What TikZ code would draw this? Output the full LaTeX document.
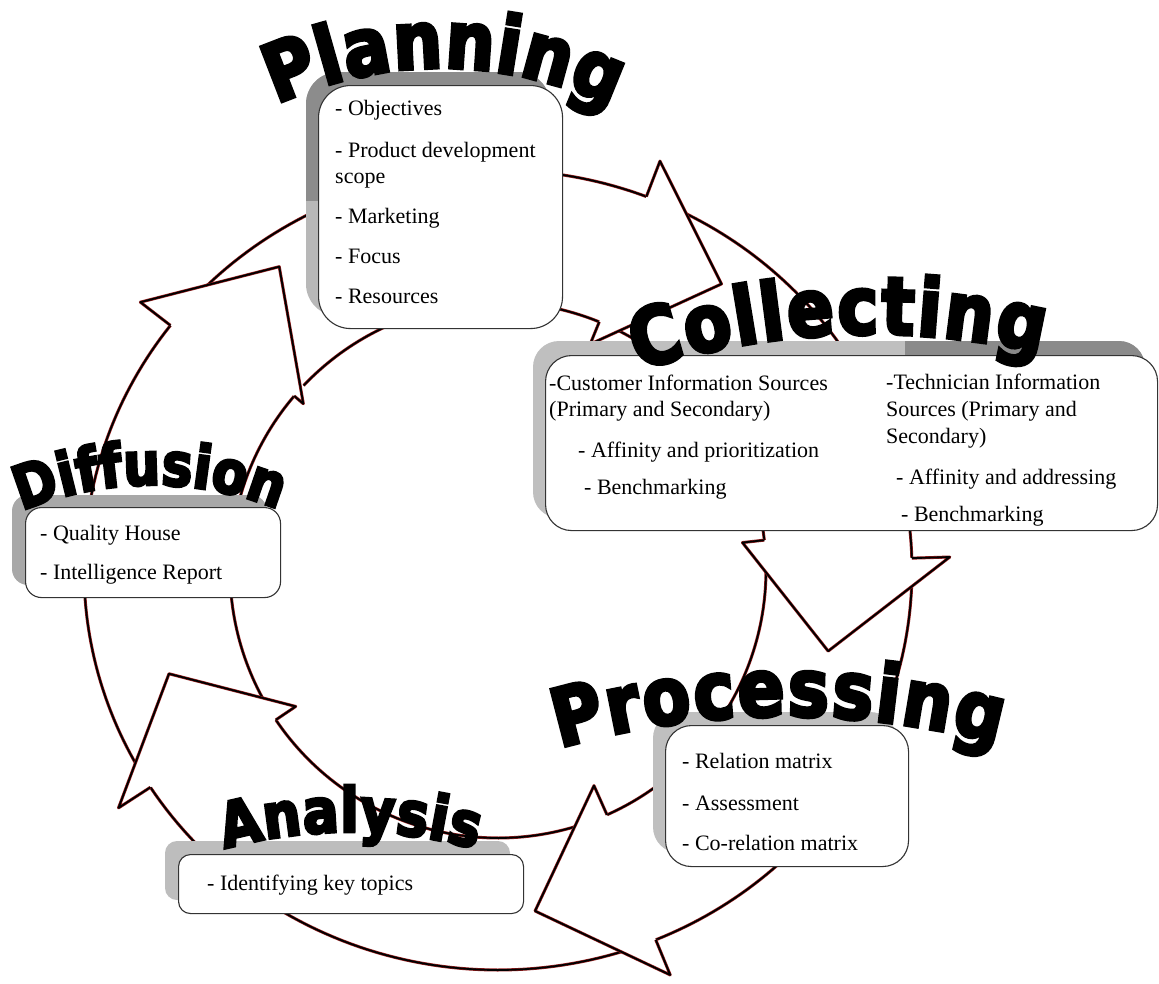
\documentclass[tikz,border=0pt]{standalone}
\usepackage{fontspec}
\usetikzlibrary{decorations.text}
\newfontfamily\itemfam{Liberation Serif}
\newfontfamily\wafam{DejaVu Sans}[BoldFeatures={FakeBold=4.5,FakeStretch=0.86}]

% ring geometry (outer ellipse, inner circle, outer wing depth)
\def\ringcx{498}\def\ringcy{570}
\def\ringrox{414}\def\ringroy{400}
\def\ringri{268}
\def\wingout{38}

% one curved band of the cycle: outer arc #1..#2, inner arc #3..#4
\newcommand{\ringband}[4]{%
  \fill[white] plot[domain=#1:#2, samples=60] ({\ringcx+\ringrox*cos(\x)},{\ringcy+\ringroy*sin(\x)})
    -- plot[domain=#4:#3, samples=60] ({\ringcx+\ringri*cos(\x)},{\ringcy+\ringri*sin(\x)}) -- cycle;
  \draw[ringline] plot[domain=#1:#2, samples=60] ({\ringcx+\ringrox*cos(\x)},{\ringcy+\ringroy*sin(\x)});
  \draw[ringline] plot[domain=#3:#4, samples=60] ({\ringcx+\ringri*cos(\x)},{\ringcy+\ringri*sin(\x)});
}
% arrow head: outer base angle, inner base angle, tip angle, tip radius, inner wing depth, name
\newcommand{\ringhead}[6]{%
  \path ({\ringcx+\ringrox*cos(#1)},{\ringcy+\ringroy*sin(#1)}) coordinate (#6on)
        ({\ringcx+(\ringrox+\wingout)*cos(#1)},{\ringcy+(\ringroy+\wingout)*sin(#1)}) coordinate (#6ow)
        ({\ringcx+#4*cos(#3)},{\ringcy+#4*sin(#3)}) coordinate (#6tip)
        ({\ringcx+(\ringri-#5)*cos(#2)},{\ringcy+(\ringri-#5)*sin(#2)}) coordinate (#6iw)
        ({\ringcx+\ringri*cos(#2)},{\ringcy+\ringri*sin(#2)}) coordinate (#6in);
  \fill[white] (#6on) -- (#6ow) -- (#6tip) -- (#6iw) -- (#6in) -- cycle;
  \draw[ringline] (#6on) -- (#6ow) -- (#6tip) -- (#6iw) -- (#6in);
}

\begin{document}
\begin{tikzpicture}[x=1pt,y=-1pt,
  ringline/.style={draw=black, line width=1.8pt, line join=round,
    preaction={draw={rgb,255:red,150;green,30;blue,30}, line width=3pt, line join=round}},
  card/.style={draw=black!80, line width=1.1pt, fill=white, rounded corners=#1pt,
    inner sep=0pt, anchor=north west},
  item/.style={font=\itemfam\fontsize{22}{26}\selectfont, inner sep=0pt, anchor=base west},
  citem/.style={font=\itemfam\fontsize{22}{26}\selectfont, inner sep=0pt, anchor=base west},
]
\useasboundingbox (0,0) rectangle (1159,983);
\fill[white] (0,0) rectangle (1159,983);

% ---- cycle of five curved arrows ----
\ringband{220.7}{291}{223.5}{292.2}
\ringband{294}{358.3}{295.2}{353.6}
\ringband{361.3}{427.6}{356.6}{426}
\ringband{70.6}{147.1}{69}{146}
\ringband{150.1}{217.7}{149}{220.5}
\ringhead{291}{292.2}{308}{363}{24}{h1}
\ringhead{358.3}{353.6}{13.8}{340}{22}{h2}
\ringhead{67.6}{66}{83.8}{343}{32}{h3}
\ringhead{147.1}{146}{162.5}{345}{24}{h4}
\ringhead{217.7}{220.5}{234.2}{374}{12}{h5}

% ---- Planning box ----
\begin{scope}
  \fill[black!28, rounded corners=32pt] (306,72) rectangle (550,316);
  \clip (0,0) rectangle (1159,200);
  \fill[black!45, rounded corners=32pt] (306,72) rectangle (550,316);
\end{scope}
\node[card=32, minimum width=244pt, minimum height=243pt] (planbox) at (318,85) {};
\node[item] (pl1) at (335,115) {- Objectives};
\node[item] (pl2) at (335,157) {- Product development};
\node[item] (pl3) at (335,183) {scope};
\node[item] (pl4) at (335,223) {- Marketing};
\node[item] (pl5) at (335,263) {- Focus};
\node[item] (pl6) at (335,303) {- Resources};

% ---- Collecting box ----
\begin{scope}
  \fill[black!25, rounded corners=26pt] (533,341) rectangle (1145,518);
  \clip (905,0) rectangle (1159,983);
  \fill[black!46, rounded corners=26pt] (533,341) rectangle (1145,518);
\end{scope}
\node[card=26, minimum width=612pt, minimum height=175pt] (colbox) at (545,355) {};
\node[citem] (co1) at (549,390) {-Customer Information Sources};
\node[citem] (co2) at (549,416) {(Primary and Secondary)};
\node[citem] (co3) at (578,457) {- Affinity and prioritization};
\node[citem] (co4) at (584,494) {- Benchmarking};
\node[citem] (co5) at (886,389) {-Technician Information};
\node[citem] (co6) at (886,416) {Sources (Primary and};
\node[citem] (co7) at (886,443) {Secondary)};
\node[citem] (co8) at (896,484) {- Affinity and addressing};
\node[citem] (co9) at (901,521) {- Benchmarking};

% ---- Diffusion box ----
\fill[black!34, rounded corners=16pt] (12,495) rectangle (267,585);
\node[card=16, minimum width=255pt, minimum height=90pt] (difbox) at (25,507) {};
\node[item] (di1) at (40,540) {- Quality House};
\node[item] (di2) at (40,579) {- Intelligence Report};

% ---- Processing box ----
\fill[black!25, rounded corners=26pt] (653,712) rectangle (896,853);
\node[card=26, minimum width=243pt, minimum height=141pt] (probox) at (665,725) {};
\node[item] (pr1) at (682,768) {- Relation matrix};
\node[item] (pr2) at (682,810) {- Assessment};
\node[item] (pr3) at (682,850) {- Co-relation matrix};

% ---- Analysis box ----
\fill[black!26, rounded corners=12pt] (165,841) rectangle (510,900);
\node[card=12, minimum width=345pt, minimum height=59pt] (anabox) at (178,854) {};
\node[item] (an1) at (207,890) {- Identifying key topics};

% ---- arched stage titles ----
\path[decorate, decoration={text along path, text align=fit to path,
  text={|\wafam\bfseries\fontsize{80}{80}\selectfont|Planning}}]
  plot[domain=-115:-64, samples=60] ({441+389*cos(\x)},{457+389*sin(\x)});
\path[decorate, decoration={text along path, text align=fit to path,
  text={|\wafam\bfseries\fontsize{80}{80}\selectfont|Collecting}}]
  plot[domain=-108:-76.8, samples=60] ({870+749*cos(\x)},{1083+749*sin(\x)});
\path[decorate, decoration={text along path, text align=fit to path,
  text={|\wafam\bfseries\fontsize{60}{60}\selectfont|Diffusion}}]
  plot[domain=-112.5:-68.4, samples=60] ({152+340*cos(\x)},{825+340*sin(\x)});
\path[decorate, decoration={text along path, text align=fit to path,
  text={|\wafam\bfseries\fontsize{80}{80}\selectfont|Processing}}]
  plot[domain=-106.1:-74.8, samples=60] ({785+812*cos(\x)},{1528+812*sin(\x)});
\path[decorate, decoration={text along path, text align=fit to path,
  text={|\wafam\bfseries\fontsize{62}{62}\selectfont|Analysis}}]
  plot[domain=-105.3:-74.6, samples=60] ({350+475*cos(\x)},{1307+475*sin(\x)});
\end{tikzpicture}
\end{document}
